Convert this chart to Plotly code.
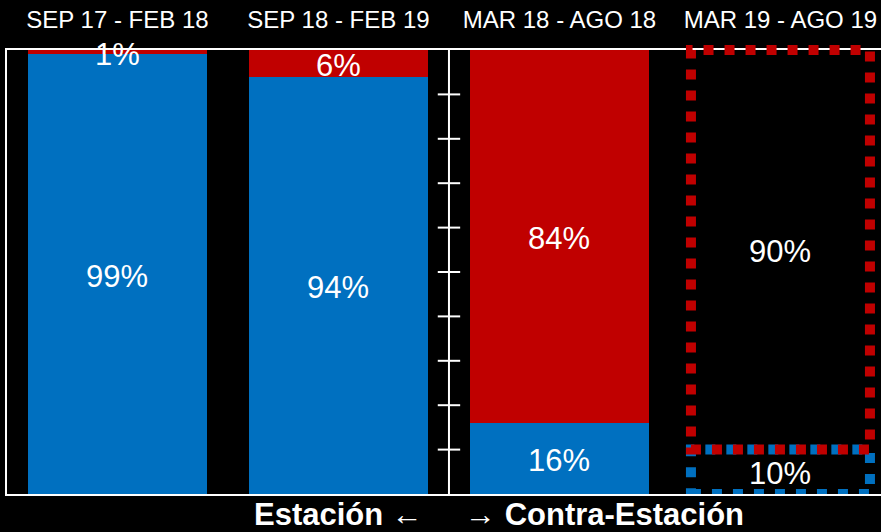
import plotly.graph_objects as go

periodos = ["SEP 17 - FEB 18", "SEP 18 - FEB 19", "MAR 18 - AGO 18", "MAR 19 - AGO 19"]
pct_azul = [99, 94, 16, 10]
pct_rojo = [1, 6, 84, 90]
proyectado = [False, False, False, True]
ticks_medio = [10, 20, 30, 40, 50, 60, 70, 80, 90]

AZUL = "#0070C0"
ROJO = "#C00000"
FUENTE = "Liberation Sans, Arial, sans-serif"
ANCHO = 0.81  # ancho de barra en unidades de categoria
Y_MAX = 100

x = list(range(len(periodos)))
transparente = "rgba(0,0,0,0)"

fig = go.Figure()
fig.add_trace(go.Bar(
    x=x, y=pct_azul, width=ANCHO,
    marker=dict(color=[transparente if p else AZUL for p in proyectado], line=dict(width=0)),
    hoverinfo="skip",
))
fig.add_trace(go.Bar(
    x=x, y=pct_rojo, width=ANCHO,
    marker=dict(color=[transparente if p else ROJO for p in proyectado], line=dict(width=0)),
    hoverinfo="skip",
))

# linea divisoria entre estacion y contra-estacion
medio = (x[1] + x[2]) / 2
fig.add_trace(go.Scatter(
    x=[medio, medio], y=[0, Y_MAX], mode="lines",
    line=dict(color="white", width=2), hoverinfo="skip",
))
fig.add_trace(go.Scatter(
    x=[medio] * len(ticks_medio), y=ticks_medio, mode="markers",
    marker=dict(symbol="line-ew", size=16, line=dict(color="white", width=2)),
    hoverinfo="skip",
))

# etiquetas centradas en cada segmento
for i in x:
    for yv, txt in [(pct_azul[i] / 2, f"{pct_azul[i]}%"),
                    (pct_azul[i] + pct_rojo[i] / 2, f"{pct_rojo[i]}%")]:
        fig.add_annotation(x=i, y=yv, text=txt, showarrow=False, yshift=-2,
                           font=dict(color="white", size=31, family=FUENTE))

# periodo proyectado: contornos punteados
# (el rojo va en coordenadas paper para que el borde superior no se recorte)
for i in x:
    if not proyectado[i]:
        continue
    fig.add_shape(type="rect", x0=i - ANCHO / 2, x1=i + ANCHO / 2, y0=0, y1=pct_azul[i],
                  line=dict(color=AZUL, width=10, dash="10px,11px"), fillcolor=transparente)
    fig.add_shape(type="rect", xref="x", yref="paper",
                  x0=i - ANCHO / 2, x1=i + ANCHO / 2,
                  y0=pct_azul[i] / Y_MAX, y1=(pct_azul[i] + pct_rojo[i]) / Y_MAX,
                  line=dict(color=ROJO, width=10, dash="10px,11px"), fillcolor=transparente)

fig.add_annotation(x=medio, y=0, xref="x", yref="paper", xanchor="right", yanchor="middle",
                   xshift=-25, yshift=-20, showarrow=False, borderpad=0,
                   text="<b>Estación</b> ←", font=dict(color="white", size=31, family=FUENTE))
fig.add_annotation(x=medio, y=0, xref="x", yref="paper", xanchor="left", yanchor="middle",
                   xshift=15, yshift=-20, showarrow=False, borderpad=0,
                   text="→ <b>Contra-Estación</b>", font=dict(color="white", size=31, family=FUENTE))

fig.update_layout(
    width=881, height=532,
    barmode="stack",
    showlegend=False,
    paper_bgcolor="black",
    plot_bgcolor="black",
    margin=dict(l=7, r=0, t=50, b=38),
    font=dict(family=FUENTE, color="white"),
    xaxis=dict(
        side="top", range=[-0.5, 3.455],
        tickvals=x, ticktext=periodos, ticks="",
        tickfont=dict(size=24, color="white"),
        ticklabelstandoff=10,
        showline=True, linecolor="white", linewidth=2, mirror=True,
        showgrid=False, zeroline=False,
    ),
    yaxis=dict(
        range=[0, Y_MAX], showticklabels=False, ticks="",
        showline=True, linecolor="white", linewidth=2,
        showgrid=False, zeroline=False,
    ),
)

fig.write_html("out.html", config={"displayModeBar": False},
               post_script="document.body.style.margin='0';")
